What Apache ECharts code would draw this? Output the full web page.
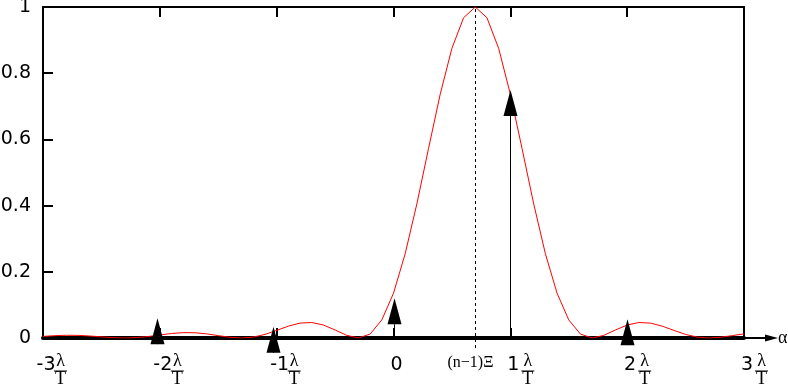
<!DOCTYPE html>
<html><head><meta charset="utf-8">
<script src="https://cdn.jsdelivr.net/npm/echarts@6/dist/echarts.min.js"></script>
<style>html,body{margin:0;padding:0;background:#fff}#c{width:788px;height:386px}</style>
</head><body><div id="c"></div>
<script>
// ---- data ----
const curveX = [-3.0,-2.9,-2.8,-2.7,-2.6,-2.5,-2.4,-2.3,-2.2,-2.1,-2.0,-1.9,-1.8,-1.7,-1.6,-1.5,-1.4,-1.3,-1.2,-1.1,
  -1.0,-0.9,-0.8,-0.7,-0.6,-0.5,-0.4,-0.3,-0.2,-0.1,0.0,0.1,0.2,0.3,0.4,0.5,0.6,0.7,0.8,0.9,
  1.0,1.1,1.2,1.3,1.4,1.5,1.6,1.7,1.8,1.9,2.0,2.1,2.2,2.3,2.4,2.5,2.6,2.7,2.8,2.9,3.0];
const curveY = [0.0048,0.0071,0.0083,0.0079,0.0061,0.0034,0.0010,0,0.0012,0.0045,0.0091,0.0136,0.0162,0.0159,0.0125,0.0072,0.0022,0,0.0027,0.0108,
  0.0230,0.0358,0.0450,0.0468,0.0392,0.0243,0.0080,0,0.0119,0.0547,0.1353,0.2546,0.4053,0.5728,0.7368,0.8751,0.9675,1.0,0.9675,0.8751,
  0.7368,0.5728,0.4053,0.2546,0.1353,0.0547,0.0119,0,0.0080,0.0243,0.0392,0.0468,0.0450,0.0358,0.0230,0.0108,0.0027,0,0.0022,0.0072,0.0125];
const arrowX = [-2.02, -1.03, 0, 1, 2];
const arrowY = [0.060, 0.034, 0.120, 0.749, 0.057];
const peakX = [0.7];
const peakLabel = ['(n\u22121)\u039E'];
const xTicks = [-3, -2, -1, 0, 1, 2, 3];
const xTickNumbers = ['-3', '-2', '-1', '0', '1', '2', '3'];
const xTickFractions = ['λ/T', 'λ/T', 'λ/T', '', 'λ/T', 'λ/T', 'λ/T'];
const yTicks = [0, 0.2, 0.4, 0.6, 0.8, 1];
const yTickLabels = ['0', '0.2', '0.4', '0.6', '0.8', '1'];
const xAxisName = 'α';

// ---- chart ----
const idx = (arr, v) => arr.findIndex(t => Math.abs(t - v) < 1e-6);
const BLACK = '#000';
const SANS = 'DejaVu Sans';
const SERIF = 'Liberation Serif';
const G = { left: 43, top: 7, width: 701, height: 331, show: false, outerBoundsMode: 'none', containLabel: false };

const chart = echarts.init(document.getElementById('c'), null, { renderer: 'canvas' });
chart.setOption({
  animation: false,
  backgroundColor: '#fff',
  grid: [Object.assign({}, G), Object.assign({}, G)],
  xAxis: [
    { gridIndex: 0, type: 'value', position: 'bottom', min: xTicks[0], max: xTicks[xTicks.length - 1], interval: 1,
      name: xAxisName, nameLocation: 'end', nameGap: 34,
      nameTextStyle: { fontFamily: SERIF, fontSize: 18, color: BLACK, padding: [0, 0, 14, 0] },
      axisLine: { show: true, onZero: false, lineStyle: { color: BLACK, width: 4 } },
      axisTick: { show: true, inside: true, length: 10, lineStyle: { color: BLACK, width: 2 } },
      splitLine: { show: false },
      axisLabel: { show: true, margin: 18, fontSize: 19, lineHeight: 18, fontFamily: SANS, color: BLACK, align: 'center', padding: [0, 0, 0, 6],
        formatter: v => { const i = idx(xTicks, v); return i < 0 ? '' : xTickNumbers[i]; } } },
    { gridIndex: 0, type: 'value', position: 'top', min: xTicks[0], max: xTicks[xTicks.length - 1], interval: 1,
      axisLine: { show: true, onZero: false, lineStyle: { color: BLACK, width: 2 } },
      axisTick: { show: true, inside: true, length: 10, lineStyle: { color: BLACK, width: 2 } },
      axisLabel: { show: false }, splitLine: { show: false } },
    { gridIndex: 1, type: 'value', position: 'bottom', min: xTicks[0], max: xTicks[xTicks.length - 1], interval: 1,
      axisLine: { show: false, onZero: false }, axisTick: { show: false }, splitLine: { show: false },
      axisLabel: { show: true, margin: 16, align: 'left', padding: [0, 0, 0, 11],
        formatter: v => {
          const i = idx(xTicks, v); if (i < 0 || !xTickFractions[i]) return '';
          const p = xTickFractions[i].split('/');
          return '{l|' + p[0] + '}\n{b| }\n{t|' + p[1] + '}';
        },
        rich: {
          l: { fontFamily: SERIF, fontSize: 18, lineHeight: 15, width: 13, align: 'center', color: BLACK },
          b: { fontSize: 1, lineHeight: 4, height: 1, width: 13, backgroundColor: BLACK },
          t: { fontFamily: SERIF, fontSize: 18, lineHeight: 13, width: 13, align: 'center', color: BLACK }
        } } }
  ],
  yAxis: [
    { gridIndex: 0, type: 'value', position: 'left', min: yTicks[0], max: yTicks[yTicks.length - 1], interval: 0.2,
      axisLine: { show: true, onZero: false, lineStyle: { color: BLACK, width: 2 } },
      axisTick: { show: true, inside: true, length: 10, lineStyle: { color: BLACK, width: 2 } },
      splitLine: { show: false },
      axisLabel: { margin: 12, fontSize: 19, fontFamily: SANS, color: BLACK, padding: [7, 0, 0, 0],
        formatter: v => { const i = idx(yTicks, v); return i < 0 ? '' : yTickLabels[i]; } } },
    { gridIndex: 0, type: 'value', position: 'right', min: 0, max: 1, interval: 0.2,
      axisLine: { show: true, onZero: false, lineStyle: { color: BLACK, width: 2 } },
      axisTick: { show: false }, axisLabel: { show: false }, splitLine: { show: false } },
    { gridIndex: 1, type: 'value', min: 0, max: 1, show: false }
  ],
  series: [
    { type: 'custom', name: 'peak', xAxisIndex: 0, yAxisIndex: 0, z: 3,
      data: peakX.map((x, i) => [x, 0, i]),
      renderItem: (params, api) => {
        const b = api.coord([api.value(0), 0]);
        const t = api.coord([api.value(0), 1]);
        const x = Math.round(b[0]) + 0.5;
        return { type: 'group', children: [
          { type: 'line', shape: { x1: x, y1: b[1] + 10, x2: x, y2: t[1] },
            style: { stroke: BLACK, lineWidth: 1, lineDash: [3, 3] } },
          { type: 'text', style: { text: peakLabel[api.value(2)], x: x - 5, y: b[1] + 17,
            align: 'center', verticalAlign: 'top', fill: BLACK, font: '16px "' + SERIF + '"' } }
        ] };
      } },
    { type: 'line', name: 'curve', xAxisIndex: 0, yAxisIndex: 0, z: 4,
      data: curveX.map((x, i) => [x, curveY[i]]),
      showSymbol: false, symbol: 'none', smooth: false,
      lineStyle: { color: '#ff0000', width: 1 } },
    { type: 'custom', name: 'arrows', xAxisIndex: 0, yAxisIndex: 0, z: 5,
      data: arrowX.map((x, i) => [x, arrowY[i]]),
      renderItem: (params, api) => {
        const b = api.coord([api.value(0), 0]);
        const t = api.coord([api.value(0), api.value(1)]);
        const x = Math.round(b[0]) + 0.5;
        const L = 26, W = 7;
        return { type: 'group', children: [
          { type: 'line', shape: { x1: x, y1: b[1], x2: x, y2: t[1] + L }, style: { stroke: BLACK, lineWidth: 1 } },
          { type: 'polygon', shape: { points: [[x, t[1]], [x - W, t[1] + L], [x + W, t[1] + L]] }, style: { fill: BLACK } }
        ] };
      } },
    { type: 'custom', name: 'axisArrow', xAxisIndex: 0, yAxisIndex: 0, z: 5,
      data: [[xTicks[xTicks.length - 1], 0]],
      renderItem: (params, api) => {
        const p = api.coord([api.value(0), api.value(1)]);
        return { type: 'group', children: [
          { type: 'line', shape: { x1: p[0], y1: p[1], x2: p[0] + 24, y2: p[1] }, style: { stroke: BLACK, lineWidth: 2 } },
          { type: 'polygon', shape: { points: [[p[0] + 34, p[1]], [p[0] + 21, p[1] - 3.5], [p[0] + 21, p[1] + 3.5]] }, style: { fill: BLACK } }
        ] };
      } }
  ]
});
</script>
</body></html>
